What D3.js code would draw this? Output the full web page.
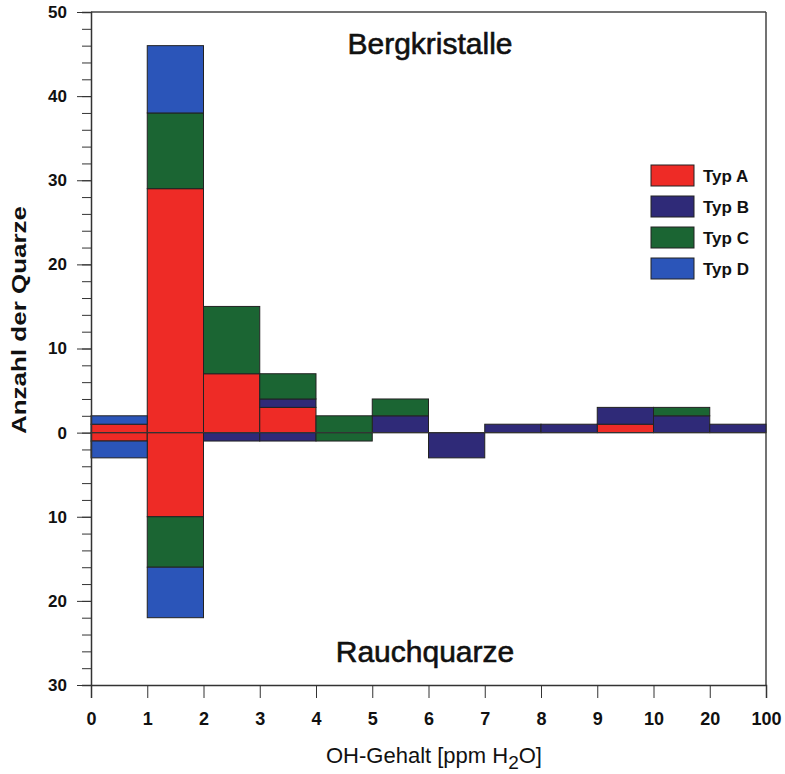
<!DOCTYPE html>
<html lang="de">
  <head>
    <meta charset="UTF-8" />
    <title>Bergkristalle / Rauchquarze</title>
    <script src="https://cdn.jsdelivr.net/npm/d3@7"></script>
    <style>
      body {
        margin: 0;
        background: #fff;
      }
      * {
        font-family: "Liberation Sans", Arial, sans-serif;
      }
      .tick text {
        font-weight: bold;
        fill: #111;
      }
      .y-major .tick text {
        font-size: 17px;
      }
      .x-axis .tick text {
        font-size: 18px;
      }
      .tick line,
      .domain {
        stroke: #333;
      }
      .bar {
        stroke: #222;
        stroke-width: 1;
      }
      .title {
        font-size: 30px;
        fill: #111;
        stroke: #111;
        stroke-width: 0.6;
      }
    </style>
  </head>
  <body>
    <svg id="chart" width="785" height="774"></svg>
  </body>
  <script>
    const binLabels = ["0", "1", "2", "3", "4", "5", "6", "7", "8", "9", "10", "20", "100"];
    const types = ["Typ A", "Typ B", "Typ C", "Typ D"];
    const colors = ["#ee2b26", "#2f2a78", "#1b6533", "#2b55b9"];

    // Bergkristalle (upwards)
    const bergA = [1, 29, 7, 3, 0, 0, 0, 0, 0, 1, 0, 0];
    const bergB = [0, 0, 0, 1, 0, 2, 0, 1, 1, 2, 2, 1];
    const bergC = [0, 9, 8, 3, 2, 2, 0, 0, 0, 0, 1, 0];
    const bergD = [1, 8, 0, 0, 0, 0, 0, 0, 0, 0, 0, 0];

    // Rauchquarze (downwards)
    const rauchA = [1, 10, 0, 0, 0, 0, 0, 0, 0, 0, 0, 0];
    const rauchB = [0, 0, 1, 1, 0, 0, 3, 0, 0, 0, 0, 0];
    const rauchC = [0, 6, 0, 0, 1, 0, 0, 0, 0, 0, 0, 0];
    const rauchD = [2, 6, 0, 0, 0, 0, 0, 0, 0, 0, 0, 0];

    const yMajor = [-30, -20, -10, 0, 10, 20, 30, 40, 50];

    const svg = d3.select("#chart");
    const plotL = 91, plotR = 766, plotT = 12, plotB = 685;

    const x = d3.scalePoint().domain(binLabels).range([plotL, plotR]);
    const y = d3.scaleLinear().domain([-30, 50]).range([plotB, plotT]);

    function rows(a, b, c, d) {
      return a.map((v, i) => ({ bin: i, "Typ A": v, "Typ B": b[i], "Typ C": c[i], "Typ D": d[i] }));
    }
    const stack = d3.stack().keys(types);
    const up = stack(rows(bergA, bergB, bergC, bergD));
    const down = stack(rows(rauchA, rauchB, rauchC, rauchD));

    // frame
    svg.append("line").attr("x1", plotL).attr("x2", plotR).attr("y1", plotT).attr("y2", plotT)
      .attr("stroke", "#444").attr("stroke-width", 1.5);
    svg.append("line").attr("x1", plotR).attr("x2", plotR).attr("y1", plotT).attr("y2", plotB)
      .attr("stroke", "#444").attr("stroke-width", 1.5);

    function drawStack(layers, sign) {
      layers.forEach((layer, k) => {
        svg.append("g")
          .selectAll("rect")
          .data(layer.filter((d) => d[1] > d[0]))
          .enter()
          .append("rect")
          .attr("class", "bar")
          .attr("fill", colors[k])
          .attr("x", (d) => x(binLabels[d.data.bin]))
          .attr("width", (d) => x(binLabels[d.data.bin + 1]) - x(binLabels[d.data.bin]))
          .attr("y", (d) => (sign > 0 ? y(d[1]) : y(-d[0])))
          .attr("height", (d) => Math.abs(y(d[1]) - y(d[0])));
      });
    }
    drawStack(up, 1);
    drawStack(down, -1);

    // zero line
    svg.append("line").attr("x1", plotL).attr("x2", plotR).attr("y1", y(0)).attr("y2", y(0))
      .attr("stroke", "#333").attr("stroke-width", 1.2);

    // y axis: minor then major
    svg.append("g")
      .attr("transform", `translate(${plotL},0)`)
      .call(d3.axisLeft(y).tickValues(d3.range(-30, 51, 2)).tickSize(9).tickFormat(""))
      .call((g) => g.select(".domain").attr("stroke-width", 1.5));
    svg.append("g")
      .attr("class", "y-major")
      .attr("transform", `translate(${plotL},0)`)
      .call(d3.axisLeft(y).tickValues(yMajor).tickSize(14).tickPadding(10).tickFormat((d) => Math.abs(d)))
      .call((g) => g.select(".domain").remove());

    // x axis
    svg.append("g")
      .attr("class", "x-axis")
      .attr("transform", `translate(0,${plotB})`)
      .call(d3.axisBottom(x).tickSize(13).tickPadding(14))
      .call((g) => g.select(".domain").attr("stroke-width", 1.5));

    // titles
    svg.append("text").attr("class", "title").attr("x", 430).attr("y", 54)
      .attr("text-anchor", "middle").text("Bergkristalle");
    svg.append("text").attr("class", "title").attr("x", 425).attr("y", 662)
      .attr("text-anchor", "middle").text("Rauchquarze");

    svg.append("text")
      .attr("transform", "translate(26,320) rotate(-90)")
      .attr("text-anchor", "middle")
      .attr("font-size", 21).attr("font-weight", "bold").attr("fill", "#111")
      .attr("textLength", 228).attr("lengthAdjust", "spacingAndGlyphs")
      .text("Anzahl der Quarze");

    const xt = svg.append("text").attr("x", 434).attr("y", 763).attr("text-anchor", "middle")
      .attr("font-size", 22).attr("fill", "#111");
    xt.append("tspan").text("OH-Gehalt [ppm H");
    xt.append("tspan").attr("dy", 6).attr("font-size", 19).text("2");
    xt.append("tspan").attr("dy", -6).text("O]");

    // legend
    const legend = svg.append("g").attr("transform", "translate(651,165)");
    types.forEach((t, i) => {
      const g = legend.append("g").attr("transform", `translate(0,${i * 31})`);
      g.append("rect").attr("width", 43).attr("height", 21).attr("fill", colors[i])
        .attr("stroke", "#222").attr("stroke-width", 1);
      g.append("text").attr("x", 52).attr("y", 17).attr("font-size", 17)
        .attr("font-weight", "bold").attr("fill", "#111").text(t);
    });
  </script>
</html>
